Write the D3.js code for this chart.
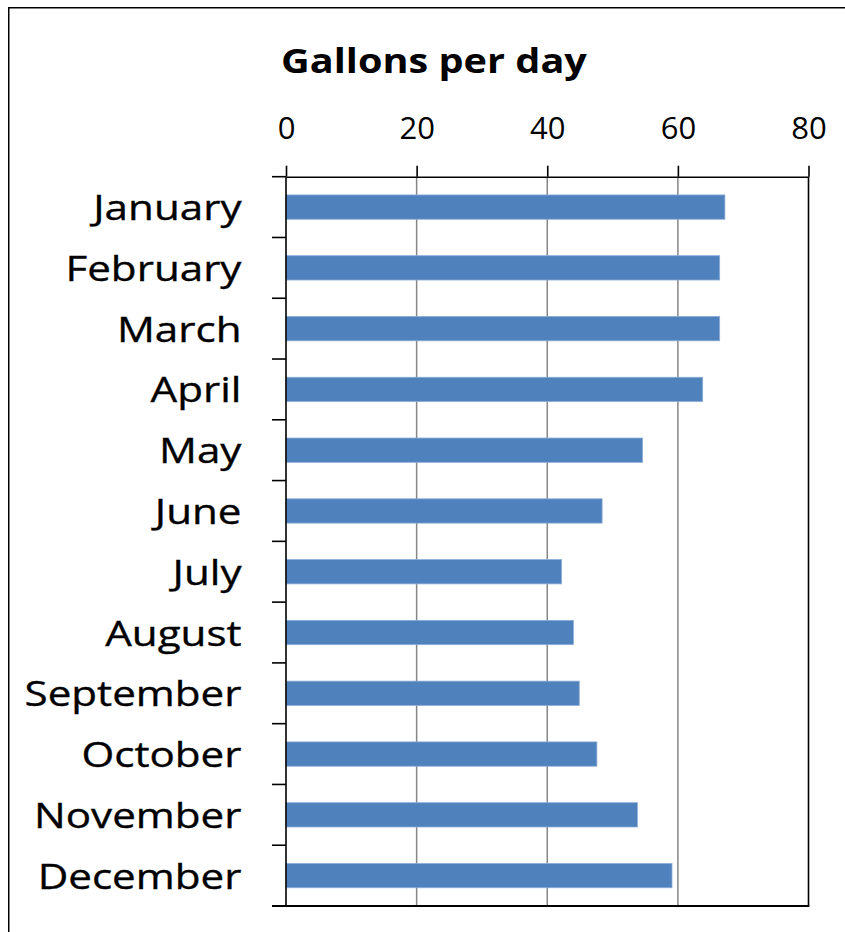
<!DOCTYPE html>
<html>
<head>
<meta charset="utf-8">
<script src="https://cdn.jsdelivr.net/npm/d3@7"></script>
<style>
  html, body { margin: 0; padding: 0; background: #fff; }
  svg { display: block; }
  text { font-family: "Open Sans", "Noto Sans", sans-serif; fill: #000; }
</style>
</head>
<body>
<script>
// ---- data ----
const months = ["January","February","March","April","May","June","July","August","September","October","November","December"];
const gallons = [67.2, 66.4, 66.4, 63.8, 54.6, 48.4, 42.2, 44.0, 44.9, 47.6, 53.8, 59.1];
const xTicks = [0, 20, 40, 60, 80];
const title = "Gallons per day";

// ---- layout ----
const W = 845, H = 932;
const plot = { left: 286, right: 808.5, top: 176.7, bottom: 906 };

const svg = d3.select("body").append("svg").attr("width", W).attr("height", H);

// outer chart border (extends past the window on right and bottom)
svg.append("rect")
  .attr("x", 8.75).attr("y", 7.75)
  .attr("width", 854).attr("height", 940)
  .attr("fill", "#fff").attr("stroke", "#000").attr("stroke-width", 1.5);

const x = d3.scaleLinear().domain([0, 80]).range([plot.left, plot.right]);
const y = d3.scaleBand().domain(months).range([plot.top, plot.bottom])
  .paddingInner(0.6).paddingOuter(0.3);

// gridlines
svg.append("g").selectAll("line").data(xTicks.filter(d => d > 0 && d < 80)).join("line")
  .attr("x1", d => x(d)).attr("x2", d => x(d))
  .attr("y1", plot.top).attr("y2", plot.bottom)
  .attr("stroke", "#868686").attr("stroke-width", 1.5);

// bars
svg.append("g").selectAll("rect").data(months).join("rect")
  .attr("x", x(0))
  .attr("y", (d) => y(d))
  .attr("width", (d, i) => x(gallons[i]) - x(0))
  .attr("height", y.bandwidth())
  .attr("fill", "#4F81BD")
  .attr("stroke", "#8DADD8").attr("stroke-width", 0.8);

// plot border: right & bottom
svg.append("line").attr("x1", plot.right).attr("x2", plot.right)
  .attr("y1", plot.top).attr("y2", plot.bottom)
  .attr("stroke", "#000").attr("stroke-width", 1.6);
svg.append("line").attr("x1", plot.left - 14).attr("x2", plot.right + 0.8)
  .attr("y1", plot.bottom).attr("y2", plot.bottom)
  .attr("stroke", "#000").attr("stroke-width", 2);

// top x axis
const xAxis = d3.axisTop(x).tickValues(xTicks).tickSize(11).tickPadding(28)
  .tickSizeOuter(0);
const gx = svg.append("g").attr("transform", `translate(0,${plot.top})`).call(xAxis);
gx.select(".domain").attr("stroke", "#000").attr("stroke-width", 1.6);
gx.selectAll(".tick line").attr("stroke", "#000").attr("stroke-width", 1.6);
gx.selectAll(".tick text").attr("font-size", 31).attr("font-family", "Open Sans")
  .attr("fill", "#000").attr("dy", 0).attr("y", 138.5 - plot.top);

// left axis line
svg.append("line").attr("x1", plot.left).attr("x2", plot.left)
  .attr("y1", plot.top).attr("y2", plot.bottom)
  .attr("stroke", "#000").attr("stroke-width", 1.6);

// category ticks at band boundaries
const bounds = months.map(m => y(m) - y.step() * 0.3);
bounds.push(plot.bottom);
svg.append("g").selectAll("line").data(bounds).join("line")
  .attr("x1", plot.left - 14).attr("x2", plot.left)
  .attr("y1", d => d).attr("y2", d => d)
  .attr("stroke", "#000").attr("stroke-width", 1.6);

// category labels
const labelG = svg.append("g");
const labels = labelG.selectAll("text").data(months).join("text")
  .attr("text-anchor", "end")
  .attr("font-size", 35)
  .attr("stroke", "#000").attr("stroke-width", 0.35)
  .text(d => d);
// horizontal stretch to match reference widths of "September" and "January"
const wSep = labels.filter(d => d === "September").node().getComputedTextLength();
const wJan = labels.filter(d => d === "January").node().getComputedTextLength();
const sx = ((213 / wSep) + (151 / wJan)) / 2;
labels.attr("transform", d => `translate(241.5,${y(d) + y.bandwidth() / 2 + 13}) scale(${sx},1)`);

// title
const t = svg.append("text")
  .attr("text-anchor", "middle")
  .attr("font-size", 34).attr("font-weight", "bold")
  .text(title);
const tsx = 306 / t.node().getComputedTextLength();
t.attr("transform", `translate(434,72.5) scale(${tsx},1)`);
</script>
</body>
</html>
